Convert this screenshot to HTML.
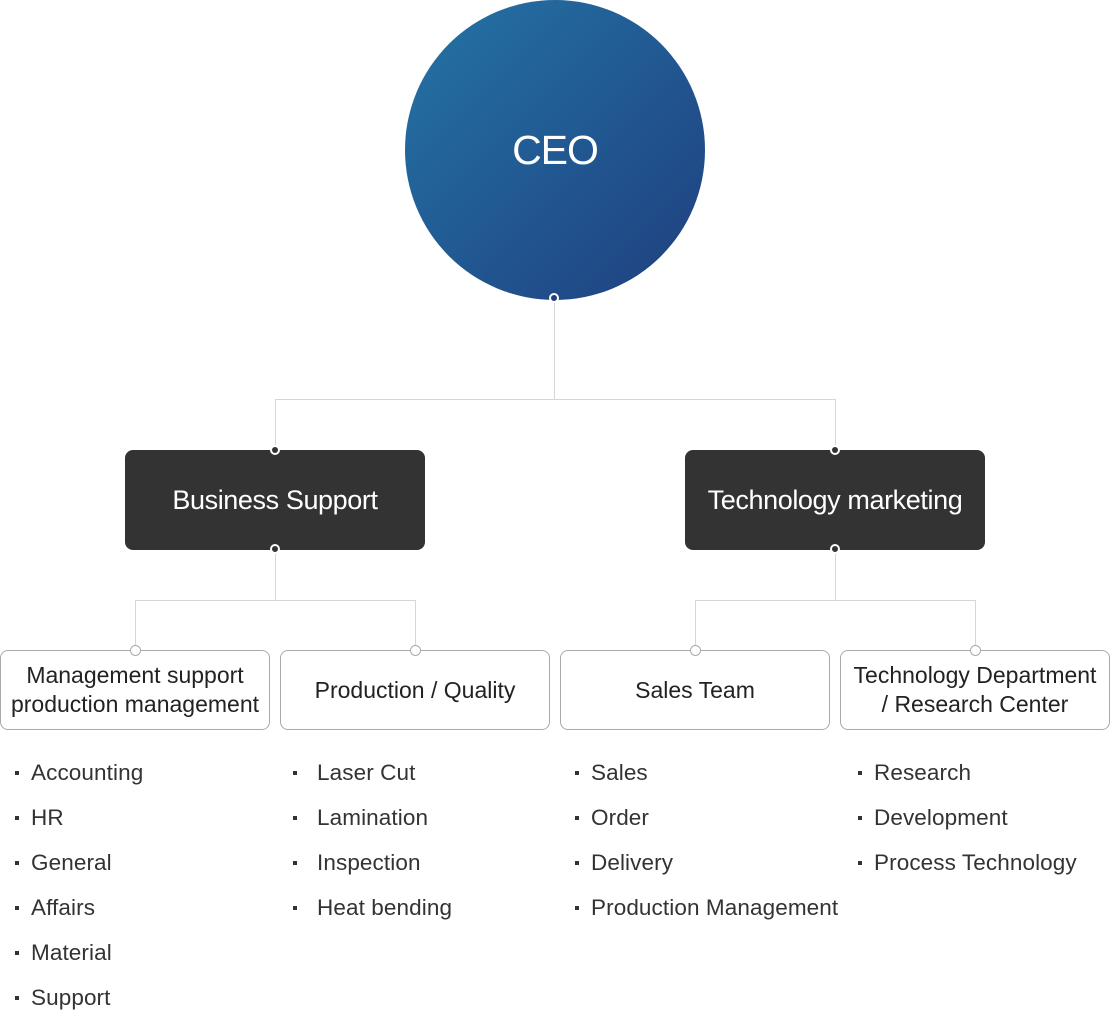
<!DOCTYPE html>
<html><head><meta charset="utf-8"><style>
*{margin:0;padding:0;box-sizing:border-box}
body{width:1110px;height:1011px;background:#fff;position:relative;overflow:hidden;font-family:"Liberation Sans",sans-serif;color:#222}
.a{position:absolute}
.ln{position:absolute;background:#d6d6d6}
.ceo{left:405px;top:0;width:300px;height:300px;border-radius:50%;background:linear-gradient(135deg,#2474a6 0%,#1f3f7f 100%);color:#fff;font-size:41px;display:flex;align-items:center;justify-content:center;letter-spacing:-1px}
.dk{top:450px;width:300px;height:100px;background:#333;border-radius:8px;color:#fff;font-size:27px;display:flex;align-items:center;justify-content:center;letter-spacing:-0.4px}
.bx{top:650px;width:270px;height:80px;border:1px solid #aaa;border-radius:8px;display:flex;align-items:center;justify-content:center;text-align:center;font-size:23px;line-height:29px;color:#222;background:#fff;white-space:nowrap}
.dot{position:absolute;width:10px;height:10px;border-radius:50%;border:2px solid #fff;background:#333}
.odot{position:absolute;width:11px;height:11px;border-radius:50%;border:1px solid #aaa;background:#fff}
.li{position:absolute;font-size:22.5px;color:#333;line-height:26px;letter-spacing:0.1px;white-space:nowrap}
.li:before{content:"";position:absolute;left:-16px;top:11px;width:4px;height:4px;background:#333}
.c2:before{left:-24px}
</style></head><body>
<div class="ln" style="left:554px;top:300px;width:1px;height:100px"></div>
<div class="ln" style="left:275px;top:399px;width:561px;height:1px"></div>
<div class="ln" style="left:275px;top:399px;width:1px;height:51px"></div>
<div class="ln" style="left:835px;top:399px;width:1px;height:51px"></div>
<div class="ln" style="left:275px;top:550px;width:1px;height:50px"></div>
<div class="ln" style="left:135px;top:600px;width:281px;height:1px"></div>
<div class="ln" style="left:135px;top:600px;width:1px;height:50px"></div>
<div class="ln" style="left:415px;top:600px;width:1px;height:50px"></div>
<div class="ln" style="left:835px;top:550px;width:1px;height:50px"></div>
<div class="ln" style="left:695px;top:600px;width:281px;height:1px"></div>
<div class="ln" style="left:695px;top:600px;width:1px;height:50px"></div>
<div class="ln" style="left:975px;top:600px;width:1px;height:50px"></div>

<div class="a ceo">CEO</div>
<div class="dot" style="left:549px;top:293px;background:#1f3f7f"></div>

<div class="a dk" style="left:125px">Business Support</div>
<div class="a dk" style="left:685px">Technology marketing</div>
<div class="dot" style="left:270px;top:445px"></div>
<div class="dot" style="left:830px;top:445px"></div>
<div class="dot" style="left:270px;top:544px"></div>
<div class="dot" style="left:830px;top:544px"></div>

<div class="a bx" style="left:0">Management support<br>production management</div>
<div class="a bx" style="left:280px">Production / Quality</div>
<div class="a bx" style="left:560px">Sales Team</div>
<div class="a bx" style="left:840px">Technology Department<br>/ Research Center</div>
<div class="odot" style="left:130px;top:645px"></div>
<div class="odot" style="left:410px;top:645px"></div>
<div class="odot" style="left:690px;top:645px"></div>
<div class="odot" style="left:970px;top:645px"></div>

<div class="li" style="left:31px;top:760px">Accounting</div>
<div class="li" style="left:31px;top:805px">HR</div>
<div class="li" style="left:31px;top:850px">General</div>
<div class="li" style="left:31px;top:895px">Affairs</div>
<div class="li" style="left:31px;top:940px">Material</div>
<div class="li" style="left:31px;top:985px">Support</div>

<div class="li c2" style="left:317px;top:760px">Laser Cut</div>
<div class="li c2" style="left:317px;top:805px">Lamination</div>
<div class="li c2" style="left:317px;top:850px">Inspection</div>
<div class="li c2" style="left:317px;top:895px">Heat bending</div>

<div class="li" style="left:591px;top:760px">Sales</div>
<div class="li" style="left:591px;top:805px">Order</div>
<div class="li" style="left:591px;top:850px">Delivery</div>
<div class="li" style="left:591px;top:895px">Production Management</div>

<div class="li" style="left:874px;top:760px">Research</div>
<div class="li" style="left:874px;top:805px">Development</div>
<div class="li" style="left:874px;top:850px">Process Technology</div>
</body></html>
